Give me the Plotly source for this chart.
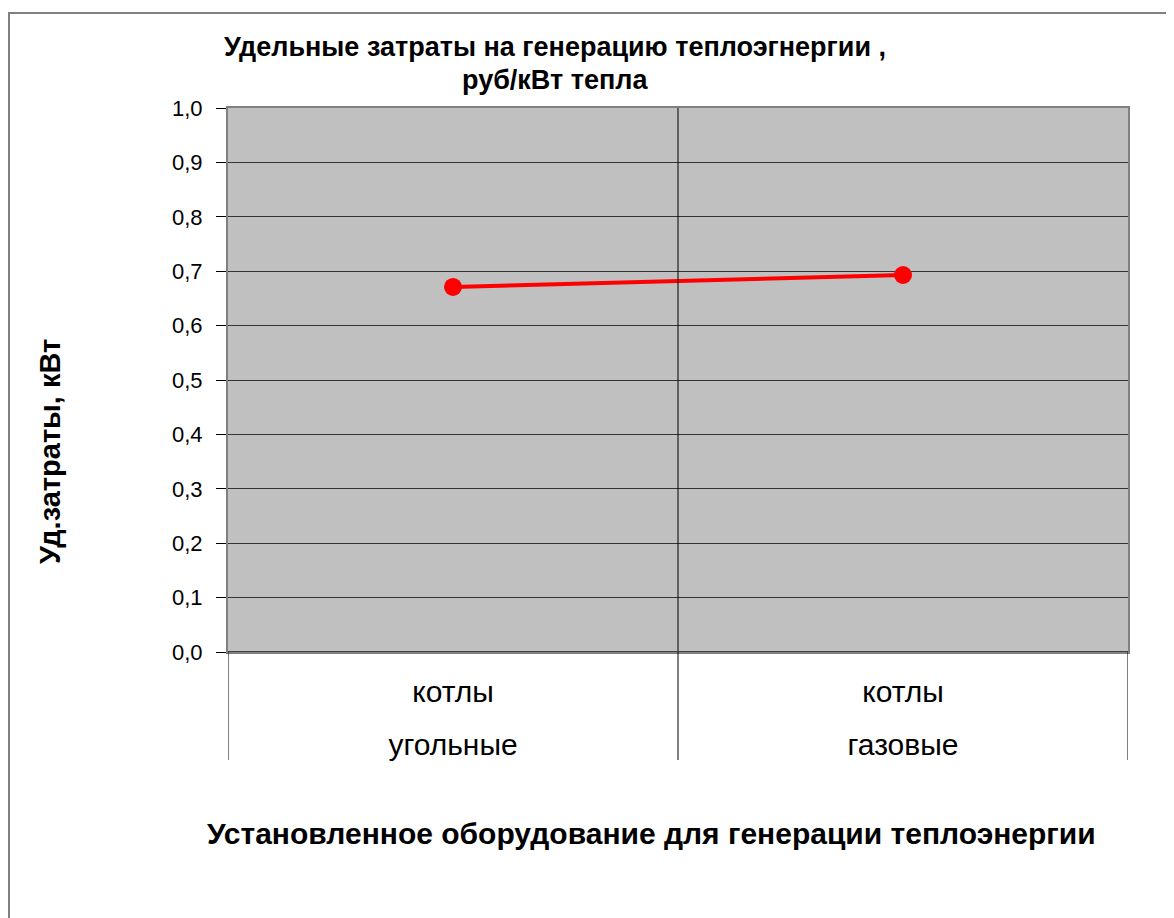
import plotly.graph_objects as go

categories = ["котлы угольные", "котлы газовые"]
values = [0.671, 0.693]
y_ticks = [0.0, 0.1, 0.2, 0.3, 0.4, 0.5, 0.6, 0.7, 0.8, 0.9, 1.0]
y_ticklabels = ["0,0", "0,1", "0,2", "0,3", "0,4", "0,5", "0,6", "0,7", "0,8", "0,9", "1,0"]
title_lines = ["Удельные затраты на генерацию теплоэгнергии ,", "руб/кВт тепла"]
x_title = "Установленное оборудование для генерации теплоэнергии"
y_title = "Уд.затраты, кВт"

W, H = 1174, 918
OFF = 8  # page body margin
FONT = "Liberation Sans, Arial, sans-serif"

def px_x(p):
    return (p - OFF) / W

def px_y(p):
    return 1 - (p - OFF) / H

n = len(categories)
xs = list(range(n))
line1 = [c.split(" ", 1)[0] for c in categories]
line2 = [c.split(" ", 1)[1] for c in categories]

fig = go.Figure()
fig.add_trace(go.Scatter(
    x=xs, y=values, mode="lines+markers",
    line=dict(color="#FF0000", width=4),
    marker=dict(color="#FF0000", size=18),
    showlegend=False, cliponaxis=False,
))
# invisible trace for the second category-label axis
fig.add_trace(go.Scatter(x=xs, y=values, xaxis="x2", mode="markers",
                         marker=dict(opacity=0), showlegend=False, hoverinfo="skip"))

shapes = []
for i in range(n + 1):
    b = i - 0.5
    shapes.append(dict(type="line", xref="x", yref="paper", x0=b, x1=b,
                       y0=px_y(760), y1=px_y(652), line=dict(color="#000000", width=1)))
    if 0 < i < n:
        shapes.append(dict(type="line", xref="x", yref="y", x0=b, x1=b,
                           y0=0, y1=1, line=dict(color="#000000", width=1)))
# zero (category) axis line
shapes.append(dict(type="line", xref="x domain", yref="y", x0=0, x1=1, y0=0, y1=0,
                   line=dict(color="#404040", width=2), layer="above"))
# outer frame
shapes.append(dict(type="rect", xref="paper", yref="paper",
                   x0=1 / W, x1=1.05, y0=-0.05, y1=px_y(13),
                   line=dict(color="#808080", width=2), fillcolor="rgba(0,0,0,0)", layer="below"))

annotations = [
    dict(text=f"<b>{title_lines[0]}</b>", x=px_x(555), y=px_y(47), xref="paper", yref="paper",
         showarrow=False, font=dict(family=FONT, size=27, color="#000000"), xanchor="center", yanchor="middle"),
    dict(text=f"<b>{title_lines[1]}</b>", x=px_x(555), y=px_y(80), xref="paper", yref="paper",
         showarrow=False, font=dict(family=FONT, size=27, color="#000000"), xanchor="center", yanchor="middle"),
    dict(text=f"<b>{x_title}</b>", x=px_x(651), y=px_y(833), xref="paper", yref="paper",
         showarrow=False, font=dict(family=FONT, size=30, color="#000000"), xanchor="center", yanchor="middle"),
    dict(text=f"<b>{y_title}</b>", x=px_x(50), y=px_y(452), xref="paper", yref="paper", textangle=-90,
         showarrow=False, font=dict(family=FONT, size=29, color="#000000"), xanchor="center", yanchor="middle"),
]

xdom = [px_x(228), px_x(1128)]
fig.update_layout(
    width=W, height=H,
    margin=dict(l=0, r=0, t=0, b=0, autoexpand=False),
    paper_bgcolor="#FFFFFF",
    plot_bgcolor="#C0C0C0",
    font=dict(family=FONT, size=22, color="#000000"),
    shapes=shapes,
    annotations=annotations,
    xaxis=dict(
        domain=xdom, range=[-0.5, n - 0.5], automargin=False,
        tickmode="array", tickvals=xs, ticktext=line1,
        ticks="", showgrid=False, zeroline=False,
        showline=True, mirror=True, linecolor="#808080", linewidth=2,
        tickfont=dict(family=FONT, size=30),
        ticklabelstandoff=12,
    ),
    xaxis2=dict(
        domain=xdom, range=[-0.5, n - 0.5], automargin=False,
        overlaying="x", anchor="y", side="bottom",
        tickmode="array", tickvals=xs, ticktext=line2,
        ticks="", showgrid=False, zeroline=False, showline=False,
        tickfont=dict(family=FONT, size=30),
        ticklabelstandoff=72,
    ),
    yaxis=dict(
        domain=[px_y(652), px_y(108)], range=[0, 1], automargin=False,
        tickmode="array", tickvals=y_ticks, ticktext=y_ticklabels,
        ticks="outside", ticklen=10, tickcolor="#000000", tickwidth=1,
        showgrid=True, gridcolor="#333333", gridwidth=1,
        zeroline=False,
        showline=True, mirror=True, linecolor="#808080", linewidth=2,
        tickfont=dict(family=FONT, size=22),
        ticklabelstandoff=9,
    ),
)

fig.write_html("out.html")
